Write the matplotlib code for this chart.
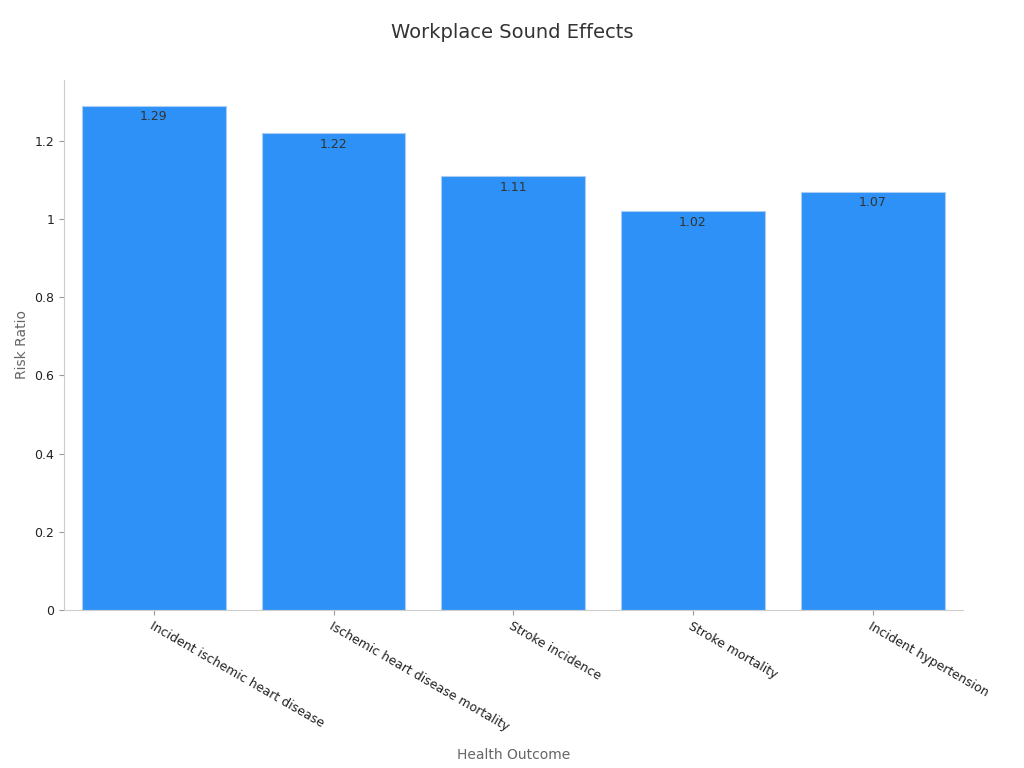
import matplotlib
matplotlib.use("Agg")
import matplotlib.pyplot as plt

categories = ["Incident ischemic heart disease", "Ischemic heart disease mortality",
              "Stroke incidence", "Stroke mortality", "Incident hypertension"]
values = [1.29, 1.22, 1.11, 1.02, 1.07]
yticks = [0, 0.2, 0.4, 0.6, 0.8, 1.0, 1.2]
ytick_labels = ["0", "0.2", "0.4", "0.6", "0.8", "1", "1.2"]

fig = plt.figure(figsize=(10.24, 7.68), dpi=100)
ax = fig.add_axes([0.0625, 0.2057, 0.8775, 0.6903])
x = range(len(categories))
bars = ax.bar(x, values, width=0.8, color="#2d91f7", edgecolor="#a9cdf5", linewidth=0.8)
for b, v in zip(bars, values):
    ax.text(b.get_x() + b.get_width() / 2, v - 0.012, f"{v:.2f}", ha="center", va="top",
            fontsize=9, color="#333333")
ax.set_xlim(-0.5, 4.5)
ax.set_ylim(0, 1.356)
ax.set_yticks(yticks)
ax.set_yticklabels(ytick_labels, fontsize=9, color="#222222")
ax.set_xticks(list(x))
ax.set_xticklabels(categories, rotation=-30, ha="left", rotation_mode="anchor", fontsize=9, color="#222222")
for s in ["top", "right"]:
    ax.spines[s].set_visible(False)
for s in ["left", "bottom"]:
    ax.spines[s].set_color("#cccccc")
ax.tick_params(colors="#999999", labelcolor="#222222")
ax.set_ylabel("Risk Ratio", fontsize=10, color="#666666")
ax.set_xlabel("Health Outcome", fontsize=10, color="#666666", labelpad=10)
fig.suptitle("Workplace Sound Effects", fontsize=14, color="#333333", y=0.97)
fig.savefig("out.png")
